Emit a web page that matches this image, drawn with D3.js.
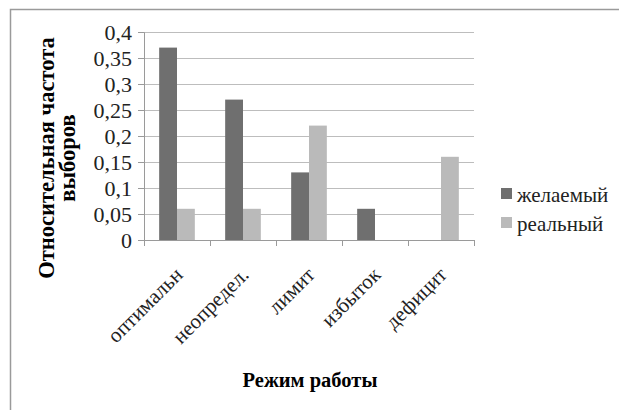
<!DOCTYPE html>
<html>
<head>
<meta charset="utf-8">
<script src="https://cdn.jsdelivr.net/npm/d3@7"></script>
<style>
  body { margin: 0; background: #fff; }
</style>
</head>
<body>
<svg id="chart" width="619" height="410"></svg>
<script>
const categories = ["оптимальн", "неопредел.", "лимит", "избыток", "дефицит"]
const desired = [0.37, 0.27, 0.13, 0.06, 0]
const actual = [0.06, 0.06, 0.22, 0, 0.16]
const seriesNames = ["желаемый", "реальный"]
const colors = ["#6f6f6f", "#bababa"]
const yTicks = [0, 0.05, 0.1, 0.15, 0.2, 0.25, 0.3, 0.35, 0.4]

const FONT = "'Liberation Serif', 'DejaVu Serif', serif"
const svg = d3.select("#chart").style("font-family", FONT)
const plotLeft = 144, plotRight = 474, plotTop = 32, plotBottom = 240

// outer frame (only top and left edge visible)
svg.append("path")
    .attr("d", "M10.5,410 V9.5 H619")
    .attr("fill", "none")
    .attr("stroke", "#9a9a9a")
    .attr("stroke-width", 1.5)

const x = d3.scaleBand(categories, [plotLeft, plotRight]).paddingInner(0).paddingOuter(0)
const xInner = d3.scaleBand([0, 1], [0, x.bandwidth()]).paddingOuter(0.85).paddingInner(0)
const y = d3.scaleLinear([0, 0.4], [plotBottom, plotTop])
const fmt = d => String(d).replace(".", ",")

// gridlines
svg.append("g")
    .selectAll("line")
    .data(yTicks.slice(1))
    .join("line")
    .attr("x1", plotLeft).attr("x2", plotRight)
    .attr("y1", d => y(d) + 0.5).attr("y2", d => y(d) + 0.5)
    .attr("stroke", "#bdbdbd")
    .attr("stroke-width", 1.2)

// bars
const rows = categories.map((c, i) => ({c, vals: [desired[i], actual[i]]}))
svg.append("g")
    .selectAll("g")
    .data(rows)
    .join("g")
    .attr("transform", d => `translate(${x(d.c)},0)`)
    .selectAll("rect")
    .data(d => d.vals.map((v, k) => ({v, k})))
    .join("rect")
    .attr("x", d => xInner(d.k))
    .attr("width", xInner.bandwidth())
    .attr("y", d => y(d.v))
    .attr("height", d => y(0) - y(d.v))
    .attr("fill", d => colors[d.k])

// y axis
const yAxis = svg.append("g")
    .attr("transform", `translate(${plotLeft},0)`)
    .call(d3.axisLeft(y).tickValues(yTicks).tickFormat(fmt).tickSize(6).tickPadding(6))
    .attr("font-family", FONT)
yAxis.select(".domain").attr("stroke", "#9a9a9a").attr("d", `M-6,${plotTop + 0.5}H0.5V${plotBottom + 0.5}`)
yAxis.selectAll(".tick line").attr("stroke", "#9a9a9a")
yAxis.selectAll(".tick text")
    .attr("font-size", 22).attr("fill", "#222")

// x axis
const xAxis = svg.append("g")
    .attr("transform", `translate(0,${plotBottom})`)
    .call(d3.axisBottom(x).tickSizeOuter(0).tickSize(0).tickFormat(""))
xAxis.select(".domain").attr("stroke", "#9a9a9a").attr("d", `M${plotLeft},0.5H${plotRight}`)
xAxis.selectAll(".tick").remove()
svg.append("g")
    .selectAll("line")
    .data(d3.range(categories.length + 1))
    .join("line")
    .attr("x1", i => plotLeft + i * x.step() + 0.5).attr("x2", i => plotLeft + i * x.step() + 0.5)
    .attr("y1", plotBottom).attr("y2", plotBottom + 6)
    .attr("stroke", "#9a9a9a")

svg.append("g")
    .selectAll("text")
    .data(categories)
    .join("text")
    .attr("transform", d => `translate(${x(d) + x.bandwidth() / 2 + 7},${plotBottom + 36}) rotate(-45)`)
    .attr("text-anchor", "end")
    .attr("font-size", 21)
    .attr("fill", "#222")
    .text(d => d)

// axis titles
svg.append("text")
    .attr("x", 310).attr("y", 387)
    .attr("text-anchor", "middle")
    .attr("font-size", 20.5).attr("font-weight", "bold")
    .text("Режим работы")

const yTitle = svg.append("text")
    .attr("transform", "translate(54,158) rotate(-90)")
    .attr("text-anchor", "middle")
    .attr("font-size", 22.5).attr("font-weight", "bold")
yTitle.append("tspan").attr("x", 0).attr("dy", 0).text("Относительная частота")
yTitle.append("tspan").attr("x", 0).attr("dy", 21).text("выборов")

// legend
const legend = svg.append("g")
    .selectAll("g")
    .data(seriesNames)
    .join("g")
    .attr("transform", (d, i) => `translate(501,${188 + i * 29})`)
legend.append("rect").attr("width", 11).attr("height", 11).attr("fill", (d, i) => colors[i])
legend.append("text")
    .attr("x", 16).attr("y", 14)
    .attr("font-size", 21).attr("fill", "#222")
    .text(d => d)
</script>
</body>
</html>
